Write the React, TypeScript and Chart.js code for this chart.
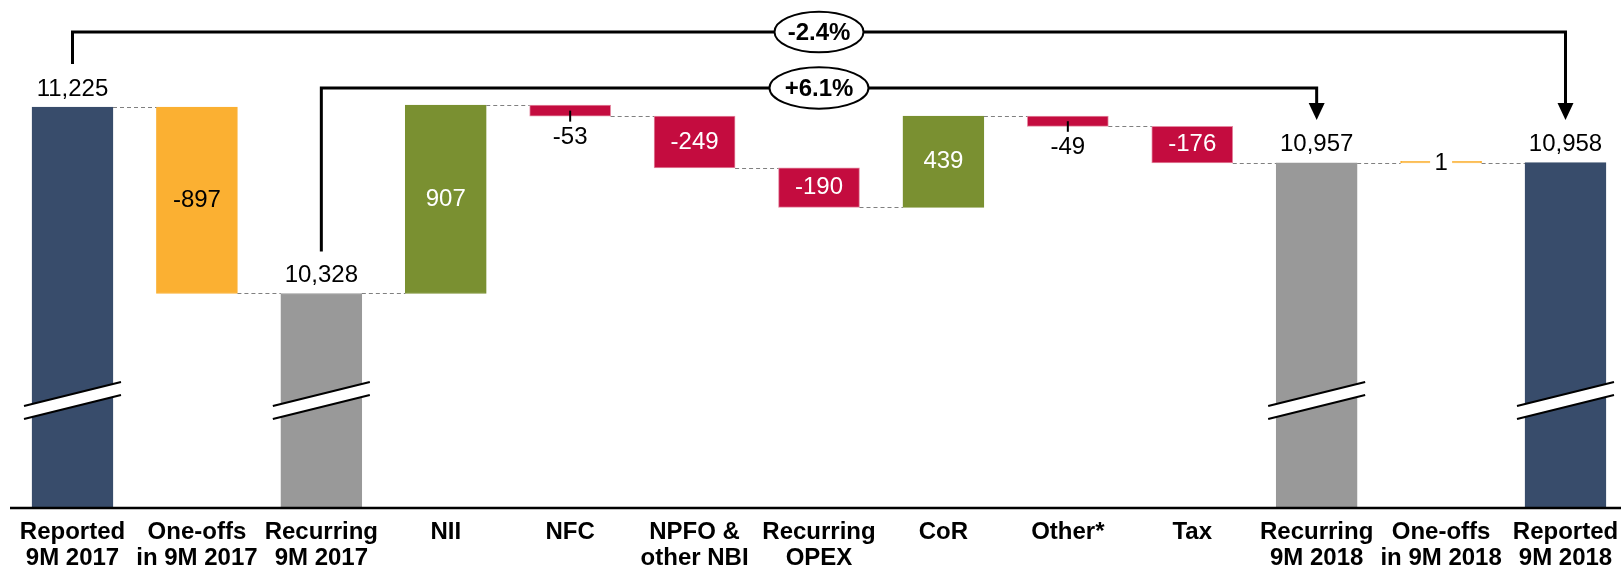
import { useEffect, useRef } from "react";
import { Chart, registerables } from "chart.js";

Chart.register(...registerables);

// ---------- data ----------
const categories: string[][] = [
  ["Reported", "9M 2017"],
  ["One-offs", "in 9M 2017"],
  ["Recurring", "9M 2017"],
  ["NII"],
  ["NFC"],
  ["NPFO &", "other NBI"],
  ["Recurring", "OPEX"],
  ["CoR"],
  ["Other*"],
  ["Tax"],
  ["Recurring", "9M 2018"],
  ["One-offs", "in 9M 2018"],
  ["Reported", "9M 2018"],
];
const values = [11225, -897, 10328, 907, -53, -249, -190, 439, -49, -176, 10957, 1, 10958];
const isTotal = [true, false, true, false, false, false, false, false, false, false, true, false, true];
const barColors = [
  "#384C6B", "#FBB032", "#999999", "#7A9031", "#C40C3F", "#C40C3F", "#C40C3F",
  "#7A9031", "#C40C3F", "#C40C3F", "#999999", "#FBB032", "#384C6B",
];
const barBorders = [
  "#384C6B", "#FBB032", "#999999", "#7A9031", "#E48AA2", "#E48AA2", "#E48AA2",
  "#7A9031", "#E48AA2", "#E48AA2", "#999999", "#FBB032", "#384C6B",
];
const labelPlacement = [
  "above", "inside", "above", "inside", "below", "inside", "inside",
  "inside", "below", "inside", "above", "onbar", "above",
];
const labelColors = [
  "#000", "#000", "#000", "#fff", "#000", "#fff", "#fff",
  "#fff", "#000", "#fff", "#000", "#000", "#000",
];
const axisMin = 9300;
const axisMax = 11693;
const bracketFrom = [0, 2];
const bracketTo = [12, 10];
const bracketText = ["-2.4%", "+6.1%"];

// ---------- derived ----------
const levels: number[] = [];
let running = 0;
const ranges: number[][] = values.map((v, i) => {
  if (isTotal[i]) {
    running = v;
    levels.push(running);
    return [axisMin, v];
  }
  const start = running;
  running += v;
  levels.push(running);
  return [Math.min(start, running), Math.max(start, running)];
});
const labelTexts = values.map((v) => (v < 0 ? "-" : "") + Math.abs(v).toLocaleString("en-US"));

const FONT = '"Liberation Sans", Arial, Helvetica, sans-serif';

const overlayPlugin = {
  id: "waterfallOverlay",
  afterDatasetsDraw(chart: any) {
    const ctx: CanvasRenderingContext2D = chart.ctx;
    const meta = chart.getDatasetMeta(0);
    const yScale = chart.scales.y;
    const area = chart.chartArea;
    const bars = meta.data.map((el: any) => {
      const p = el.getProps(["x", "y", "base", "width"], true);
      return {
        x: p.x,
        w: p.width,
        top: Math.min(p.y, p.base),
        bottom: Math.max(p.y, p.base),
      };
    });

    ctx.save();
    // connectors
    ctx.strokeStyle = "#808080";
    ctx.lineWidth = 1;
    ctx.setLineDash([4, 3]);
    for (let i = 0; i < bars.length - 1; i++) {
      const a = bars[i];
      const b = bars[i + 1];
      const yy = Math.round(yScale.getPixelForValue(levels[i])) + 0.5;
      ctx.beginPath();
      ctx.moveTo(a.x + a.w / 2, yy);
      ctx.lineTo(b.x - b.w / 2, yy);
      ctx.stroke();
    }
    ctx.setLineDash([]);

    // axis break marks on totals
    bars.forEach((b: any, i: number) => {
      if (!isTotal[i]) return;
      const x0 = b.x - 48.5;
      const x1 = b.x + 48.5;
      const yL = area.bottom - 101;
      const yR = area.bottom - 125;
      const gap = 13;
      ctx.fillStyle = "#fff";
      ctx.beginPath();
      ctx.moveTo(x0, yL);
      ctx.lineTo(x1, yR);
      ctx.lineTo(x1, yR + gap);
      ctx.lineTo(x0, yL + gap);
      ctx.closePath();
      ctx.fill();
      ctx.strokeStyle = "#000";
      ctx.lineWidth = 2;
      ctx.beginPath();
      ctx.moveTo(x0, yL);
      ctx.lineTo(x1, yR);
      ctx.moveTo(x0, yL + gap);
      ctx.lineTo(x1, yR + gap);
      ctx.stroke();
    });

    // axis line
    ctx.strokeStyle = "#000";
    ctx.lineWidth = 2.5;
    ctx.beginPath();
    ctx.moveTo(10, area.bottom + 1);
    ctx.lineTo(chart.width, area.bottom + 1);
    ctx.stroke();

    // value labels
    ctx.font = "24px " + FONT;
    ctx.textAlign = "center";
    ctx.textBaseline = "middle";
    bars.forEach((b: any, i: number) => {
      const place = labelPlacement[i];
      const txt = labelTexts[i];
      ctx.fillStyle = labelColors[i];
      if (place === "above") {
        ctx.fillText(txt, b.x, b.top - 18);
      } else if (place === "inside") {
        ctx.fillText(txt, b.x, (b.top + b.bottom) / 2);
      } else if (place === "below") {
        ctx.strokeStyle = "#000";
        ctx.lineWidth = 2;
        ctx.beginPath();
        ctx.moveTo(b.x, (b.top + b.bottom) / 2);
        ctx.lineTo(b.x, b.bottom + 5.5);
        ctx.stroke();
        ctx.fillText(txt, b.x, b.bottom + 21.5);
      } else if (place === "onbar") {
        const cy = (b.top + b.bottom) / 2;
        ctx.fillStyle = "#fff";
        ctx.fillRect(b.x - 11, cy - 11, 22, 22);
        ctx.fillStyle = labelColors[i];
        ctx.fillText(txt, b.x, cy + 1);
      }
    });

    // brackets with growth labels
    const bracketY = [32, 88];
    const bracketLeftEnd = [64, 251.5];
    const ellipseRx = [44.5, 49.5];
    const ellipseRy = [20.3, 20.7];
    bracketFrom.forEach((from, k) => {
      const xa = bars[from].x;
      const xb = bars[bracketTo[k]].x;
      const yy = bracketY[k];
      ctx.strokeStyle = "#000";
      ctx.lineWidth = 3;
      ctx.lineJoin = "miter";
      ctx.beginPath();
      ctx.moveTo(xa, bracketLeftEnd[k]);
      ctx.lineTo(xa, yy);
      ctx.lineTo(xb, yy);
      ctx.lineTo(xb, 105);
      ctx.stroke();
      ctx.fillStyle = "#000";
      ctx.beginPath();
      ctx.moveTo(xb - 8, 103);
      ctx.lineTo(xb + 8, 103);
      ctx.lineTo(xb, 120);
      ctx.closePath();
      ctx.fill();
      const cx = (xa + xb) / 2;
      ctx.fillStyle = "#fff";
      ctx.lineWidth = 2;
      ctx.beginPath();
      ctx.ellipse(cx, yy, ellipseRx[k], ellipseRy[k], 0, 0, Math.PI * 2);
      ctx.fill();
      ctx.stroke();
      ctx.fillStyle = "#000";
      ctx.font = "bold 24px " + FONT;
      ctx.fillText(bracketText[k], cx, yy + 1);
    });
    ctx.restore();
  },
};

export default function App() {
  const ref = useRef<HTMLCanvasElement | null>(null);
  useEffect(() => {
    document.body.style.margin = "0";
    document.body.style.overflow = "hidden";
    if (!ref.current) return;
    const chart = new Chart(ref.current, {
      type: "bar",
      data: {
        labels: categories,
        datasets: [
          {
            data: ranges as any,
            backgroundColor: barColors,
            borderColor: barBorders,
            borderWidth: 1,
            borderSkipped: false,
            barThickness: 81,
            minBarLength: 1.5,
            clip: false as any,
          },
        ],
      },
      options: {
        animation: false,
        responsive: false,
        devicePixelRatio: 1,
        layout: { padding: { left: 72.5, right: 55.5, top: 10, bottom: 0 } },
        plugins: { legend: { display: false }, tooltip: { enabled: false } },
        scales: {
          x: {
            type: "category",
            offset: false,
            grid: { display: false, drawTicks: false },
            border: { display: false },
            ticks: {
              autoSkip: false,
              maxRotation: 0,
              minRotation: 0,
              padding: 12,
              color: "#000",
              font: { family: FONT, size: 24, weight: "bold", lineHeight: 26 / 24 },
            },
            afterFit: (s: any) => {
              s.height = 63;
              s.paddingLeft = 0;
              s.paddingRight = 0;
            },
          },
          y: { display: false, min: axisMin, max: axisMax },
        },
      },
      plugins: [overlayPlugin],
    });
    return () => chart.destroy();
  }, []);
  return <canvas ref={ref} width={1621} height={570} style={{ display: "block" }} />;
}
